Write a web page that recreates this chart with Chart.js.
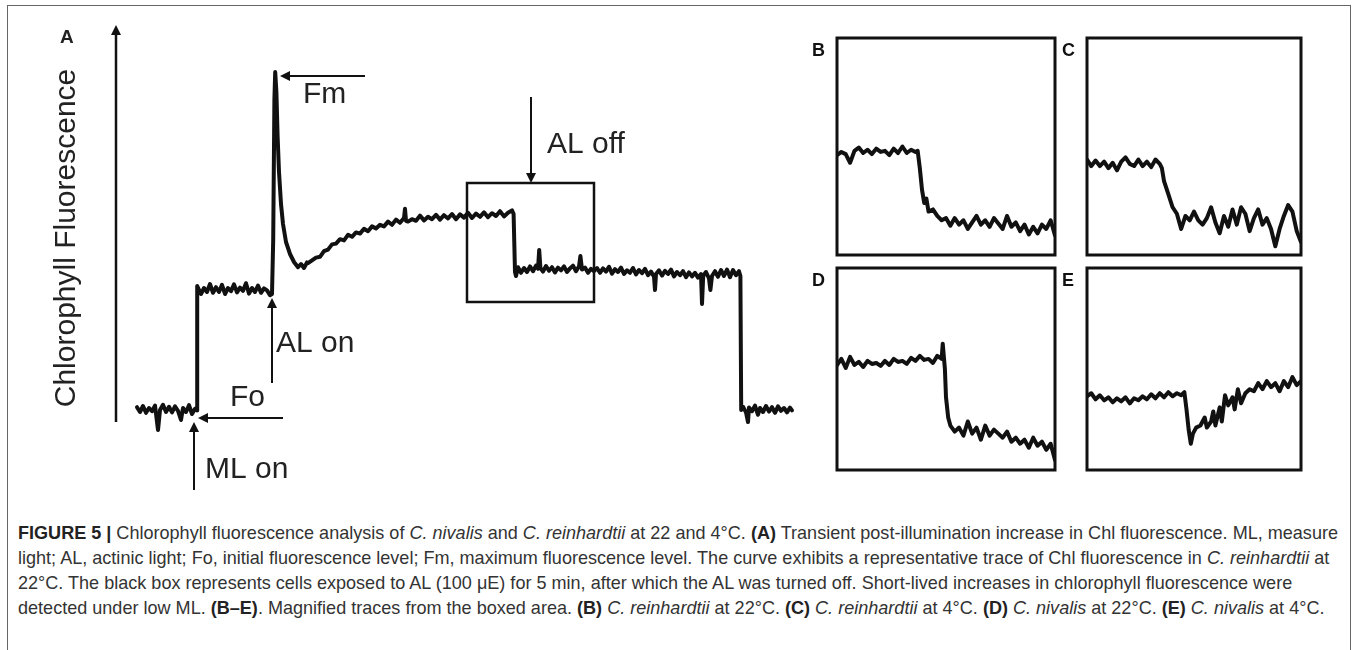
<!DOCTYPE html>
<html>
<head>
<meta charset="utf-8">
<script src="https://cdn.jsdelivr.net/npm/chart.js@4.4.1/dist/chart.umd.min.js"></script>
<style>
html, body { margin: 0; padding: 0; background: #fff; }
body { width: 1357px; height: 650px; position: relative; overflow: hidden; font-family: 'Liberation Sans', Arial, sans-serif; }
#frame { position: absolute; left: 7px; top: 5px; width: 1344px; height: 700px; border: 1.5px solid #666; box-sizing: border-box; }
canvas { position: absolute; }
#caption { position: absolute; left: 18px; top: 520px; font-size: 19px; line-height: 25px; color: #333; white-space: nowrap; }
#caption span.line { display: inline-block; transform-origin: 0 50%; }
#caption b { color: #222; }
</style>
</head>
<body>
<div id="frame"></div>
<canvas id="panelA" width="800" height="520" style="left:16px;top:0px"></canvas>
<canvas id="panelB" width="252" height="225" style="left:807px;top:34px"></canvas>
<canvas id="panelC" width="248" height="225" style="left:1057px;top:34px"></canvas>
<canvas id="panelD" width="252" height="210" style="left:807px;top:264px"></canvas>
<canvas id="panelE" width="248" height="210" style="left:1057px;top:264px"></canvas>
<div id="caption">
  <div><span class="line"><b>FIGURE 5 |</b> Chlorophyll fluorescence analysis of <i>C. nivalis</i> and <i>C. reinhardtii</i> at 22 and 4°C. <b>(A)</b> Transient post-illumination increase in Chl fluorescence. ML, measure</span></div>
  <div><span class="line">light; AL, actinic light; Fo, initial fluorescence level; Fm, maximum fluorescence level. The curve exhibits a representative trace of Chl fluorescence in <i>C. reinhardtii</i> at</span></div>
  <div><span class="line">22°C. The black box represents cells exposed to AL (100 μE) for 5 min, after which the AL was turned off. Short-lived increases in chlorophyll fluorescence were</span></div>
  <div><span class="line">detected under low ML. <b>(B–E)</b>. Magnified traces from the boxed area. <b>(B)</b> <i>C. reinhardtii</i> at 22°C. <b>(C)</b> <i>C. reinhardtii</i> at 4°C. <b>(D)</b> <i>C. nivalis</i> at 22°C. <b>(E)</b> <i>C. nivalis</i> at 4°C.</span></div>
</div>
<script>
// --- DATA: panel A trace, [time, fluorescence] per segment ---

// measuring light off (dark baseline)
const traceDark = [[0.5,18.2],[2,17],[3.5,18.5],[5,16.8],[6.5,18],[8,17.2],[9.5,18.6],[11,12.5],[12,17.5],[13.5,18.8],[15,17],[16.5,18.3],[18,16.9],[19.5,18.4],[21,17.3],[22.5,15],[23.5,18],[25,17],[26.5,18.7],[28,16.5],[29.5,17.8],[30.5,17.4]];

// ML on -> Fo plateau
const traceFo = [[30.6,48.5],[32.5,46.5],[34,48],[35.5,47],[37,49],[38.5,46.8],[40,48.2],[41.5,47],[43,48.8],[44.5,46.5],[46,48],[47.5,47.2],[49,48.9],[50.5,46.9],[52,48.1],[53.5,47.3],[55,49.2],[56.5,46.6],[58,48],[59.5,47],[61,48.6],[62.5,46.8],[64,47.9],[65.5,47.4],[67,46.2],[68,46.5]];

// AL on -> Fm spike and decay
const traceFm = [[68.6,60],[69.2,95],[69.6,102],[70.2,97],[70.8,86],[71.5,77],[72.5,69],[73.5,64],[75,59.5],[77,56.5],[79,54.5],[81,53.2],[82.5,54],[84,53],[85.5,54.4]];

// slow rise under AL
const traceRise = [[86,54.2],[88,54.9],[90,55.6],[92,55.8],[94,57.2],[96,57.6],[98,58.9],[100,59.1],[102,60.2],[104,59.9],[106,61.3],[108,60.8],[110,61.9],[112,61.6],[114,62.8],[116,62.2],[118,63.4],[120,62.9],[122,63.8],[124,63.4],[126,64.6],[128,63.8],[130,65.1],[132,64.3],[134,65.5],[134.5,67.8],[135,64.8],[136,64.6],[138,65.2],[140,64.8],[142,66.1],[144,64.9],[146,65.8],[148,65.2],[150,66.3],[152,65.1],[154,66.2],[156,65.4],[158,66.5],[160,65.2],[162,66.4],[164,65.6],[166,66.8],[168,65.5],[170,66.6],[172,65.8],[174,66.9],[176,65.7],[178,66.7],[180,66],[182,67.2],[184,65.9],[186,66.8],[188,67.4],[188.8,66.5]];

// AL off
const traceAlOff = [[189.5,52],[190,51],[191,53.2],[192.5,51.8],[194,53],[195.5,52],[197,53.4],[198.5,52.2],[200,53.6],[201,52.8],[201.6,57.5],[202.2,53],[203.5,52.1],[205,53.5],[206.5,52.3],[208,53.2],[209.5,51.9],[211,53.1],[212.5,52.4],[214,53.4],[215.5,52],[217,52.9],[218.5,53.6],[220,52.2],[221.5,53.4],[222.2,56],[223,52.6],[224.5,53.1],[226,51.8],[227.5,52.8],[229,52.2],[230.5,53],[232,51.8],[233.5,52.9],[235,52.1],[236.5,53.3],[238,51.6],[239.5,52.7],[241,52],[242.5,53.1],[244,51.5],[245.5,52.4],[247,51.8],[248.5,53],[250,51.4],[251.5,52.5],[253,51.7],[254.5,52.8],[256,51.2],[257.5,52.1],[259,50.8],[259.5,47.5],[260,51.5],[261.5,52.4],[263,51.1],[264.5,52.3],[266,51.5],[267.5,52.6],[269,50.9],[270.5,52],[272,51.2],[273.5,52.2],[275,50.7],[276.5,51.9],[278,50.9],[279.5,51.8],[281,50.6],[282.5,51.5],[283,44],[283.6,51],[285,52],[286.5,50.4],[287.2,47.5],[288,51],[289.5,52.2],[291,50.8],[292.5,52.5],[294,51],[295.5,52.6],[297,50.7],[298.5,52.5],[300,51.2],[301.5,52.2],[302.2,51]];

// ML off
const traceMlOff = [[302.6,17.5],[303.5,18.3],[305,16.9],[306,14.5],[306.5,18.1],[308,17.2],[309.5,18.6],[311,16.3],[312,18],[313.5,17],[315,18.5],[316.5,17.1],[318,18.2],[319.5,16.8],[321,18.4],[322.5,17.3],[324,18],[325.5,16.9],[327,18.1],[328,17.4]];

// --- DATA: magnified traces B-E, [relative time, relative fluorescence] ---
const traceB = [[0,46],[2,47.5],[4,46.5],[6,42.5],[8,48],[10,49.5],[12,47],[14,48.5],[16,46.5],[18,49],[20,47.5],[22,48],[24,46],[26,49],[28,47],[30,50],[32,47],[34,48.5],[36,47.5],[37,48],[38,40],[39,30],[40,24],[41,26],[42,20],[44,21],[46,18],[48,16],[50,17],[52,13.5],[54,17],[56,14],[58,16],[60,12],[62,15],[64,18],[66,14],[68,16],[70,13],[72,17],[74,14.5],[76,12],[78,18],[80,13],[82,15],[84,11],[86,14],[88,9.5],[90,13],[92,10],[94,14],[96,12],[98,16],[100,9]];
const traceC = [[0,44],[2,41],[4,43.5],[6,41],[8,43],[10,40],[12,42.5],[14,39],[16,43],[18,45],[20,42],[22,41],[24,44],[26,41],[28,43],[30,40.5],[32,44],[34,42],[35,40],[36,34],[38,28],[40,22],[42,19],[44,12],[46,18],[48,16],[50,20],[52,16],[54,14],[56,17],[58,22],[60,15],[62,10],[64,18],[66,13],[68,21],[70,14],[72,22],[74,19],[76,11],[78,17],[80,21],[82,14],[84,17],[86,12],[88,4],[90,12],[92,18],[94,23],[96,20],[98,11],[100,6]];
const traceD = [[0,52],[2,55],[4,50.5],[6,56],[8,52],[10,53.5],[12,51],[14,54],[16,52.5],[18,53],[20,51.5],[22,54],[24,52],[26,55],[28,53.5],[30,54],[32,52.5],[34,55.5],[36,54],[38,56.5],[40,54.5],[42,55],[44,53],[46,56.5],[48,55],[48.5,62.5],[49.5,50],[50,36],[51,26],[52,22],[54,19],[56,21],[58,17],[60,24],[62,18],[64,21],[66,15],[68,22],[70,17],[72,20],[74,18],[76,16],[78,19],[80,14],[82,16],[84,13],[86,15],[88,11],[90,16],[92,12],[94,14],[96,10],[98,13],[100,5]];
const traceE = [[0,36.5],[2,38],[4,35],[6,37],[8,34.5],[10,36],[12,33.5],[14,35.5],[16,34],[18,36],[20,33],[22,35.5],[24,34.5],[26,36.5],[28,35],[30,37.5],[32,35.5],[34,38],[36,36],[38,38.5],[40,36.5],[42,38],[44,37],[45.5,38.5],[46.5,30],[47.5,20],[48.5,13],[49.5,18],[51,21],[53,22],[55,26],[56,21],[58,24],[59,29],[60,22],[62,31],[63,24],[64.5,37],[66,32],[68,36],[69,30],[70.5,40],[72,33],[74,38],[76,40],[78,39],[80,43],[82,40],[84,44],[86,41],[88,43],[90,39],[92,44],[94,41],[96,46],[98,42],[100,44]];

// --- annotations for panel A, in data units ---
const annotA = {
    axisTitle: { text: 'Chlorophyll Fluorescence', at: [-34.5, 60.5] },
    letter: { text: 'A', at: [-38, 109.25] },
    arrows: [
        { from: [-10, 14.5], to: [-10, 113.75], width: 2.5 },   // y-axis
        { from: [114.5, 101], to: [72, 101], width: 2 },        // Fm
        { from: [197.5, 95.75], to: [197.5, 74.25], width: 2 }, // AL off
        { from: [68, 24.25], to: [68, 45.5], width: 2 },        // AL on
        { from: [73.5, 15.5], to: [31, 15.5], width: 2 },       // Fo
        { from: [29, -2.5], to: [29, 14.5], width: 2 }          // ML on
    ],
    labels: [
        { text: 'Fm', at: [83.5, 94.25] },
        { text: 'AL off', at: [205.5, 81.75] },
        { text: 'AL on', at: [70, 32] },
        { text: 'Fo', at: [47, 18.5] },
        { text: 'ML on', at: [34.5, 0.5] }
    ],
    box: { x0: 165.5, x1: 229, y0: 44.5, y1: 74.25 }
};

const FONT = "'Liberation Sans', Arial, sans-serif";

function toXY(points) {
    return points.map(p => ({ x: p[0], y: p[1] }));
}

function drawArrow(ctx, x1, y1, x2, y2, w) {
    const ang = Math.atan2(y2 - y1, x2 - x1);
    const headLen = 10, headHalf = 5;
    const bx = x2 - Math.cos(ang) * headLen, by = y2 - Math.sin(ang) * headLen;
    ctx.beginPath();
    ctx.lineWidth = w;
    ctx.moveTo(x1, y1);
    ctx.lineTo(bx, by);
    ctx.stroke();
    ctx.beginPath();
    ctx.moveTo(x2, y2);
    ctx.lineTo(bx - Math.sin(ang) * headHalf, by + Math.cos(ang) * headHalf);
    ctx.lineTo(bx + Math.sin(ang) * headHalf, by - Math.cos(ang) * headHalf);
    ctx.closePath();
    ctx.fill();
}

// Plugin: arrows, box and texts of panel A
const panelAPlugin = {
    id: 'panelAnnotations',
    afterDatasetsDraw(chart) {
        const { ctx, scales: { x, y } } = chart;
        const px = v => x.getPixelForValue(v), py = v => y.getPixelForValue(v);
        ctx.save();
        ctx.strokeStyle = '#111';
        ctx.fillStyle = '#111';
        ctx.lineCap = 'butt';

        annotA.arrows.forEach(a => {
            drawArrow(ctx, px(a.from[0]), py(a.from[1]), px(a.to[0]), py(a.to[1]), a.width);
        });

        const b = annotA.box;
        ctx.lineWidth = 2.5;
        ctx.strokeRect(px(b.x0), py(b.y1), px(b.x1) - px(b.x0), py(b.y0) - py(b.y1));

        ctx.fillStyle = '#222';
        ctx.font = '30px ' + FONT;
        ctx.textBaseline = 'alphabetic';
        ctx.textAlign = 'left';
        annotA.labels.forEach(l => ctx.fillText(l.text, px(l.at[0]), py(l.at[1])));

        ctx.font = 'bold 19px ' + FONT;
        ctx.fillText(annotA.letter.text, px(annotA.letter.at[0]), py(annotA.letter.at[1]));

        ctx.save();
        ctx.translate(px(annotA.axisTitle.at[0]), py(annotA.axisTitle.at[1]));
        ctx.rotate(-Math.PI / 2);
        ctx.font = '30px ' + FONT;
        ctx.textAlign = 'center';
        ctx.textBaseline = 'middle';
        ctx.fillText(annotA.axisTitle.text, 0, 0);
        ctx.restore();
        ctx.restore();
    }
};

// Plugin: frame and letter of the small panels
const framePlugin = {
    id: 'panelFrame',
    afterDraw(chart, args, opts) {
        const { ctx, chartArea: ca } = chart;
        ctx.save();
        ctx.strokeStyle = '#111';
        ctx.lineWidth = 3;
        ctx.strokeRect(ca.left, ca.top, ca.right - ca.left, ca.bottom - ca.top);
        ctx.fillStyle = '#111';
        ctx.font = 'bold 18px ' + FONT;
        ctx.textBaseline = 'alphabetic';
        ctx.fillText(opts.letter, ca.left - 25, ca.top + 18);
        ctx.restore();
    }
};

function baseOptions(xr, yr, padding) {
    return {
        responsive: false,
        animation: false,
        events: [],
        layout: { padding },
        plugins: { legend: { display: false }, tooltip: { enabled: false } },
        scales: {
            x: { type: 'linear', display: false, min: xr[0], max: xr[1] },
            y: { type: 'linear', display: false, min: yr[0], max: yr[1] }
        }
    };
}

function lineDataset(points, width) {
    return {
        data: toXY(points),
        borderColor: '#111',
        borderWidth: width,
        pointRadius: 0,
        tension: 0,
        borderJoinStyle: 'round',
        borderCapStyle: 'round'
    };
}

// --- PANEL A ---
const traceA = [].concat(traceDark, traceFo, traceFm, traceRise, traceAlOff, traceMlOff);
new Chart(document.getElementById('panelA'), {
    type: 'line',
    data: { datasets: [lineDataset(traceA, 4)] },
    options: baseOptions([-60, 340], [-10, 120], 0),
    plugins: [panelAPlugin]
});

// --- PANELS B-E ---
const smallPanels = [
    { id: 'panelB', letter: 'B', data: traceB },
    { id: 'panelC', letter: 'C', data: traceC },
    { id: 'panelD', letter: 'D', data: traceD },
    { id: 'panelE', letter: 'E', data: traceE }
];
smallPanels.forEach(p => {
    const opts = baseOptions([0, 100], [0, 100], { left: 30, top: 4, right: 4, bottom: 4 });
    opts.plugins.panelFrame = { letter: p.letter };
    new Chart(document.getElementById(p.id), {
        type: 'line',
        data: { datasets: [lineDataset(p.data, 4)] },
        options: opts,
        plugins: [framePlugin]
    });
});

// --- CAPTION: squeeze lines to the printed width ---
document.fonts.ready.then(() => {
    const lines = document.querySelectorAll('#caption span.line');
    const s = 1320 / lines[0].getBoundingClientRect().width;
    lines.forEach(l => { l.style.transform = 'scaleX(' + s + ')'; });
});
</script>
</body>
</html>
